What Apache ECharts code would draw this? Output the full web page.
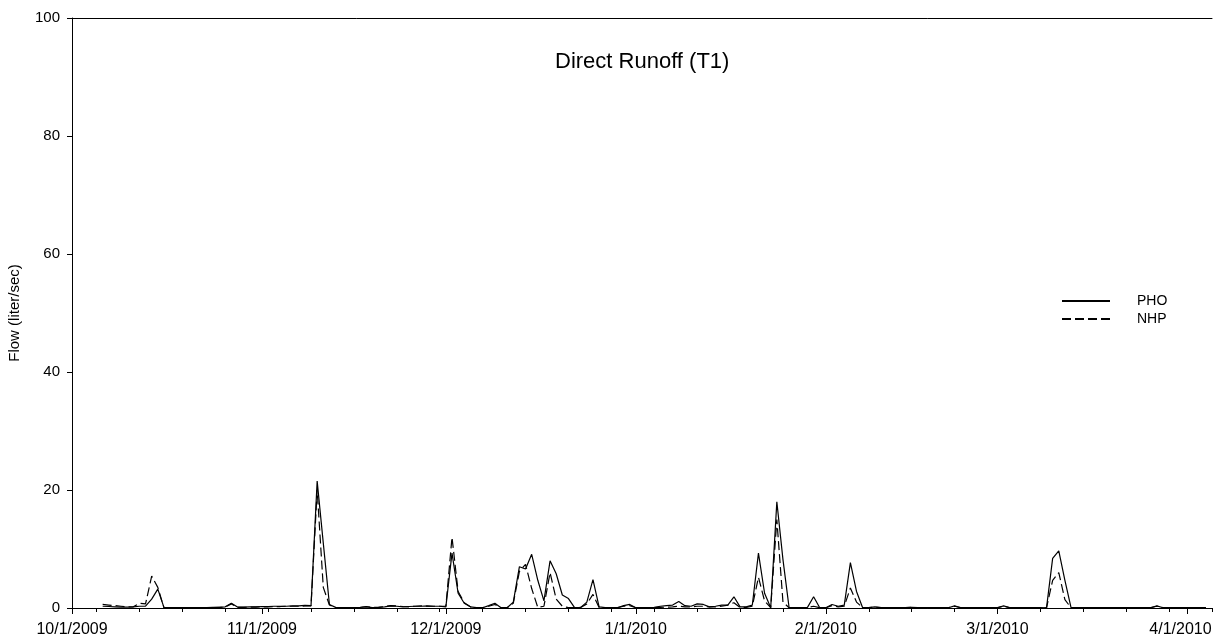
<!DOCTYPE html>
<html>
<head>
<meta charset="utf-8">
<script src="https://cdn.jsdelivr.net/npm/echarts@6/dist/echarts.min.js"></script>
<style>
  html, body { margin: 0; padding: 0; background: #fff; }
  #chart { width: 1215px; height: 641px; }
</style>
</head>
<body>
<div id="chart"></div>
<script>
// ---- Data (day index 0 = 10/1/2009) ----
const startDate = [2009, 9, 1];
const dayCount = 187;
const monthTickLabels = ['10/1/2009', '11/1/2009', '12/1/2009', '1/1/2010', '2/1/2010', '3/1/2010', '4/1/2010'];
const yTicks = [0, 20, 40, 60, 80, 100];
const seriesNames = ['PHO', 'NHP'];

const pho = [
  null, null, null, null, null, 0.3, 0.25, 0.2, 0.15, 0.15,
  0.2, 0.3, 0.3, 1.5, 3.2, 0.1, 0.05, 0.05, 0.05, 0.05,
  0.05, 0.05, 0.05, 0.1, 0.1, 0.2, 0.8, 0.15, 0.15, 0.2,
  0.2, 0.25, 0.25, 0.3, 0.3, 0.3, 0.35, 0.35, 0.45, 0.4,
  21.5, 11, 0.6, 0.1, 0.05, 0.05, 0.05, 0.1, 0.2, 0.05,
  0.1, 0.2, 0.35, 0.3, 0.2, 0.25, 0.3, 0.3, 0.35, 0.3,
  0.3, 0.2, 9.3, 2.5, 0.8, 0.2, 0.05, 0.05, 0.4, 0.8,
  0.05, 0.05, 1.0, 7.0, 6.6, 9.1, 4.7, 1.2, 8.0, 5.8,
  2.2, 1.6, 0.05, 0.1, 1.0, 4.8, 0.2, 0.05, 0.05, 0.05,
  0.4, 0.6, 0.05, 0.05, 0.05, 0.1, 0.3, 0.4, 0.5, 1.1,
  0.4, 0.3, 0.7, 0.6, 0.2, 0.3, 0.5, 0.5, 1.9, 0.2,
  0.2, 0.5, 9.3, 2.5, 0.05, 18.0, 8.2, 0.05, 0.05, 0.05,
  0.1, 1.9, 0.05, 0.05, 0.6, 0.3, 0.5, 7.7, 2.8, 0.05,
  0.05, 0.2, 0.05, 0.05, 0.05, 0.05, 0.05, 0.1, 0.05, 0.05,
  0.05, 0.05, 0.05, 0.05, 0.35, 0.05, 0.05, 0.05, 0.05, 0.05,
  0.05, 0.05, 0.35, 0.05, 0.05, 0.05, 0.05, 0.05, 0.05, 0.02,
  8.4, 9.7, 4.7, 0.05, 0.05, 0.05, 0.05, 0.05, 0.05, 0.05,
  0.05, 0.05, 0.05, 0.05, 0.05, 0.05, 0.05, 0.35, 0.05, 0.05,
  0.05, 0.05, 0.05, 0.05, 0.05, 0.05, null
];

const nhp = [
  null, null, null, null, null, 0.6, 0.5, 0.4, 0.3, 0.2,
  0.2, 0.8, 0.7, 5.4, 3.5, 0.05, 0.05, 0.05, 0.05, 0.05,
  0.05, 0.05, 0.05, 0.05, 0.1, 0.15, 0.7, 0.1, 0.1, 0.15,
  0.15, 0.2, 0.2, 0.25, 0.25, 0.3, 0.3, 0.3, 0.35, 0.35,
  20.0, 3.5, 0.5, 0.1, 0.05, 0.05, 0.05, 0.1, 0.25, 0.1,
  0.1, 0.25, 0.4, 0.35, 0.25, 0.2, 0.3, 0.35, 0.3, 0.3,
  0.3, 0.3, 12.0, 2.8, 0.9, 0.2, 0.05, 0.05, 0.3, 0.6,
  0.05, 0.05, 0.8, 6.2, 7.4, 3.3, 0.1, 0.3, 6.0, 1.5,
  0.3, 0.05, 0.05, 0.1, 0.7, 2.3, 0.1, 0.05, 0.05, 0.05,
  0.3, 0.4, 0.05, 0.05, 0.05, 0.05, 0.1, 0.15, 0.2, 0.3,
  0.2, 0.2, 0.3, 0.3, 0.2, 0.2, 0.3, 0.5, 0.9, 0.1,
  0.1, 0.3, 5.2, 1.2, 0.05, 15.0, 1.0, 0.05, 0.05, 0.05,
  0.05, 0.3, 0.05, 0.05, 0.4, 0.2, 0.3, 3.4, 1.0, 0.05,
  0.05, 0.15, 0.05, 0.05, 0.05, 0.05, 0.05, 0.1, 0.05, 0.05,
  0.05, 0.05, 0.05, 0.05, 0.3, 0.05, 0.05, 0.05, 0.05, 0.05,
  0.05, 0.05, 0.3, 0.05, 0.05, 0.05, 0.05, 0.05, 0.05, 0.02,
  4.7, 6.0, 1.4, 0.05, 0.05, 0.05, 0.05, 0.05, 0.05, 0.05,
  0.05, 0.05, 0.05, 0.05, 0.05, 0.05, 0.05, 0.3, 0.05, 0.05,
  0.05, 0.05, 0.05, 0.05, 0.05, 0.05, null
];

// ---- Category (day) labels ----
const categories = [];
const isMonday = [];
for (let i = 0; i < dayCount; i++) {
  const d = new Date(startDate[0], startDate[1], startDate[2] + i);
  categories.push((d.getMonth() + 1) + '/' + d.getDate() + '/' + d.getFullYear());
  isMonday.push(d.getDay() === 1);
}
const isMonthTick = (idx) => monthTickLabels.indexOf(categories[idx]) >= 0;
const lastTickLabel = monthTickLabels[monthTickLabels.length - 1];

const FONT = '"Liberation Sans", Arial, sans-serif';
const chart = echarts.init(document.getElementById('chart'), null, { renderer: 'canvas' });

const baseX = {
  type: 'category',
  data: categories,
  boundaryGap: false,
  position: 'bottom',
  axisLine: { show: true, lineStyle: { color: '#000', width: 1 } },
  splitLine: { show: false }
};

chart.setOption({
  animation: false,
  backgroundColor: '#fff',
  title: {
    text: 'Direct Runoff (T1)',
    left: 550,
    top: 46,
    textStyle: { fontFamily: FONT, fontSize: 22, fontWeight: 'normal', color: '#000' }
  },
  legend: {
    orient: 'vertical',
    left: 1056,
    top: 289,
    itemWidth: 48,
    itemHeight: 14,
    itemGap: 4,
    data: seriesNames,
    itemStyle: { opacity: 0 },
    textStyle: { fontFamily: FONT, fontSize: 14, color: '#000', padding: [0, 0, 0, 22] }
  },
  grid: { left: 72, right: 3, top: 18, bottom: 33, containLabel: false, outerBoundsMode: 'none' },
  xAxis: [
    Object.assign({}, baseX, {
      axisTick: { show: true, length: 6, interval: (i) => isMonthTick(i), lineStyle: { color: '#000' } },
      axisLabel: {
        show: true,
        interval: (i) => isMonthTick(i),
        margin: 14,
        fontFamily: FONT, fontSize: 16, color: '#000',
        formatter: (v) => (v === lastTickLabel ? '{last|' + v + '}' : v),
        rich: {
          last: { fontFamily: FONT, fontSize: 16, color: '#000', padding: [0, 14, 0, 0] }
        }
      }
    }),
    Object.assign({}, baseX, {
      axisTick: { show: true, length: 4, interval: (i) => isMonday[i], lineStyle: { color: '#000' } },
      axisLabel: { show: false }
    }),
    Object.assign({}, baseX, {
      position: 'top',
      axisTick: { show: false },
      axisLabel: { show: false }
    })
  ],
  yAxis: {
    type: 'value',
    min: 0,
    max: 100,
    interval: 20,
    name: 'Flow (liter/sec)',
    nameLocation: 'middle',
    nameGap: 50,
    nameRotate: 90,
    nameTextStyle: { fontFamily: FONT, fontSize: 15, color: '#000' },
    axisLine: { show: true, lineStyle: { color: '#000', width: 1 } },
    axisTick: { show: true, length: 5, lineStyle: { color: '#000' } },
    axisLabel: { margin: 12, fontFamily: FONT, fontSize: 15, color: '#000',
      formatter: (v) => (yTicks.indexOf(v) >= 0 ? String(v) : '') },
    splitLine: { show: false }
  },
  series: [
    {
      name: seriesNames[0],
      type: 'line',
      xAxisIndex: 0,
      data: pho,
      symbol: 'none',
      connectNulls: false,
      lineStyle: { color: '#000', width: 1.2, type: 'solid' },
      itemStyle: { color: '#000' }
    },
    {
      name: seriesNames[1],
      type: 'line',
      xAxisIndex: 0,
      data: nhp,
      symbol: 'none',
      connectNulls: false,
      lineStyle: { color: '#000', width: 1.2, type: [9, 4] },
      itemStyle: { color: '#000' }
    }
  ]
});
</script>
</body>
</html>
